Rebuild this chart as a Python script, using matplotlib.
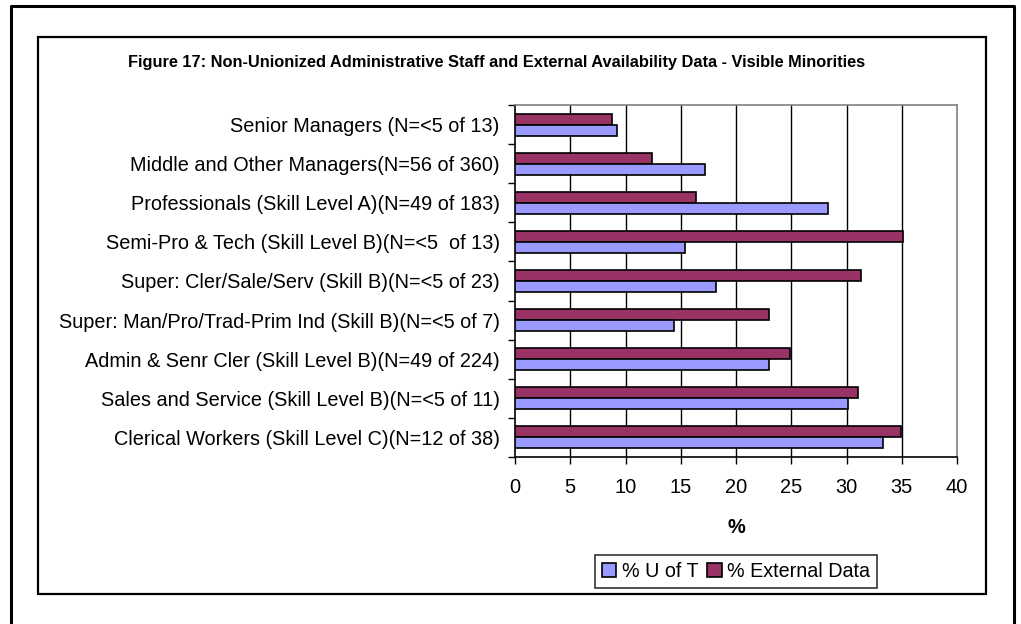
import matplotlib
matplotlib.use("Agg")
import matplotlib.pyplot as plt
from matplotlib.lines import Line2D
from matplotlib.patches import Rectangle, Patch
import numpy as np

categories = [
    "Senior Managers (N=<5 of 13)",
    "Middle and Other Managers(N=56 of 360)",
    "Professionals (Skill Level A)(N=49 of 183)",
    "Semi-Pro & Tech (Skill Level B)(N=<5  of 13)",
    "Super: Cler/Sale/Serv (Skill B)(N=<5 of 23)",
    "Super: Man/Pro/Trad-Prim Ind (Skill B)(N=<5 of 7)",
    "Admin & Senr Cler (Skill Level B)(N=49 of 224)",
    "Sales and Service (Skill Level B)(N=<5 of 11)",
    "Clerical Workers (Skill Level C)(N=12 of 38)",
]
uoft = [9.2, 17.2, 28.3, 15.4, 18.2, 14.4, 23.0, 30.1, 33.3]
external = [8.8, 12.4, 16.4, 35.1, 31.3, 23.0, 24.9, 31.0, 34.9]
series_names = ["% U of T", "% External Data"]
xticks = [0, 5, 10, 15, 20, 25, 30, 35, 40]
title = "Figure 17: Non-Unionized Administrative Staff and External Availability Data - Visible Minorities"

plt.rcParams['font.family'] = ['Liberation Sans', 'DejaVu Sans']

W, H = 1021, 624
fig = plt.figure(figsize=(W / 100, H / 100), dpi=100)

def fx(x):
    return x / W

def fy(y):
    return 1 - y / H

# outer frame (open at bottom)
fig.add_artist(Line2D([fx(11), fx(11), fx(1014), fx(1014)],
                      [fy(630), fy(6), fy(6), fy(630)],
                      color="black", lw=2.2, transform=fig.transFigure))
# inner chart frame
fig.add_artist(Rectangle((fx(38), fy(594)), fx(986) - fx(38), fy(37) - fy(594),
                         fill=False, edgecolor="black", lw=1.6,
                         transform=fig.transFigure))

left, right, top, bottom = 515, 957, 105, 457
ax = fig.add_axes([fx(left), fy(bottom), fx(right) - fx(left), fy(top) - fy(bottom)])

n = len(categories)
y = np.arange(n)
h = 0.28
blue = "#9999FF"
red = "#993366"
ax.barh(y - h / 2, external, height=h, color=red, edgecolor="black", lw=1.2, zorder=3)
ax.barh(y + h / 2, uoft, height=h, color=blue, edgecolor="black", lw=1.2, zorder=3)

ax.set_xlim(0, 40)
ax.set_ylim(n - 0.5, -0.5)
ax.set_xticks(xticks)
ax.set_xticklabels([str(t) for t in xticks], fontsize=14.4)
ax.set_yticks(y)
ax.set_yticklabels(categories, fontsize=14.35)
ax.set_yticks(np.arange(n + 1) - 0.5, minor=True)
ax.tick_params(axis="y", which="major", length=0, pad=11)
ax.tick_params(axis="y", which="minor", length=5, width=1, direction="out")
ax.tick_params(axis="x", which="major", length=5, width=1, direction="out", pad=10)

for t in xticks[1:-1]:
    ax.axvline(t, color="black", lw=1, zorder=1)
ax.spines["left"].set_color("black")
ax.spines["bottom"].set_color("black")
ax.spines["top"].set_color("#808080")
ax.spines["right"].set_color("#808080")
for s in ax.spines.values():
    s.set_linewidth(1.2)

ax.set_xlabel("%", fontsize=14.4, fontweight="bold", labelpad=15)

fig.text(fx(497), fy(62), title, fontsize=11.8, fontweight="bold",
         ha="center", va="center")

handles = [Patch(facecolor=blue, edgecolor="black", lw=1.2),
           Patch(facecolor=red, edgecolor="black", lw=1.2)]
leg = fig.legend(handles, series_names, loc="center",
                 bbox_to_anchor=(fx(736), fy(571.5)), ncol=2, fontsize=14.2,
                 handlelength=0.75, handleheight=0.75, handletextpad=0.3,
                 columnspacing=0.4, borderpad=0.35, fancybox=False,
                 frameon=True, edgecolor="black")
leg.get_frame().set_linewidth(1.2)

fig.savefig("out.png", dpi=100)
